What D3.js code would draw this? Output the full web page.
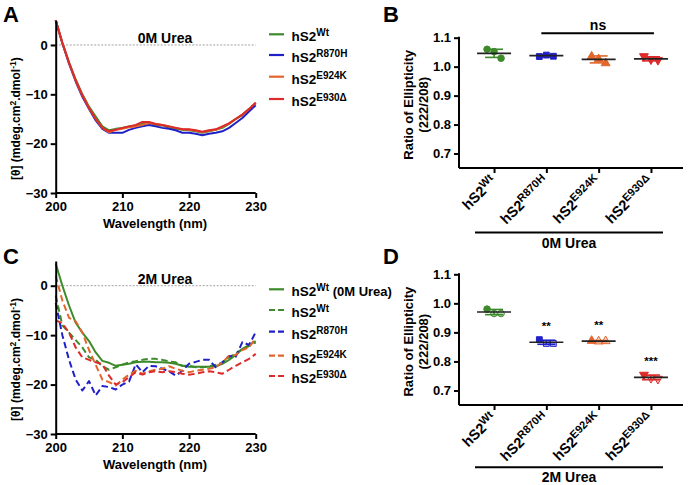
<!DOCTYPE html>
<html><head><meta charset="utf-8">
<script src="https://cdn.jsdelivr.net/npm/d3@7"></script>
<style>
body{margin:0;background:#fff;}
svg{display:block;font-family:"Liberation Sans",Arial,sans-serif;font-weight:bold;}
</style></head>
<body><svg id="c" width="688" height="485"></svg>
<script>
// ---------- DATA ----------
const wavelengths = d3.range(200, 231); // 200..230 nm
const seriesNames = ["Wt", "R870H", "E924K", "E930Δ"];
const colors = {"Wt":"#3d8a2b","R870H":"#2020c8","E924K":"#e2652c","E930Δ":"#dd2a2a"};

// Panel A: 0M Urea
const a_Wt    = [5,0.5,-3.5,-7,-10,-12.5,-14.5,-16.5,-17.3,-17,-16.8,-16.5,-16.3,-16,-15.8,-16.2,-16.3,-16.8,-17,-17.2,-17.3,-17.5,-17.8,-17.5,-17.2,-16.8,-16,-15,-14.2,-13,-11.8];
const a_R870H = [5,0.3,-3.8,-7.4,-10.5,-13,-15.3,-17,-17.8,-17.8,-17.8,-17.2,-16.8,-16.5,-16.2,-16.5,-16.8,-17,-17.3,-17.8,-17.8,-18,-18.3,-18,-17.8,-17.5,-16.8,-15.8,-14.8,-13.5,-12.2];
const a_E924K = [5,0.4,-3.6,-7.2,-10.2,-12.8,-15,-16.8,-17.7,-17.2,-17,-16.7,-16.5,-16.2,-15.8,-16,-16.2,-16.5,-16.8,-17.1,-17.2,-17.4,-17.7,-17.4,-17.2,-16.6,-15.9,-15,-14.1,-13,-11.7];
const a_E930D = [5,0.4,-3.6,-7.2,-10.2,-12.8,-15,-16.8,-17.5,-17.2,-16.8,-16.5,-16.2,-15.6,-15.6,-16,-16.2,-16.5,-16.8,-17.1,-17.1,-17.3,-17.6,-17.3,-17.1,-16.5,-15.9,-15,-14.1,-13,-11.7];

// Panel C: 2M Urea (plus Wt at 0M as reference)
const c_Wt0M  = [4.5,0,-4,-7.5,-9.5,-11.2,-13.5,-15.2,-15.6,-16.2,-16,-15.8,-15.5,-15.4,-15.4,-15.5,-15.5,-15.6,-15.8,-16.2,-16.4,-16.4,-16.4,-16.4,-16.3,-15.8,-15,-14,-12.8,-12,-11.2];
const c_Wt    = [-2,-8,-9.5,-11,-12.5,-14.5,-15,-16.3,-17,-16.5,-16,-15.5,-15.3,-15,-14.8,-14.8,-15,-15.3,-15.5,-16.2,-16.2,-16.5,-16.5,-16.3,-16,-15.5,-14.5,-13.7,-12.8,-12.2,-11.5];
const c_R870H = [-3.5,-10,-15,-19,-21.2,-19.3,-22.2,-20.3,-20.5,-21,-20,-19.4,-15.9,-17.5,-16.2,-16.3,-16.8,-17.3,-18.2,-17.2,-15.8,-15.4,-15,-15,-16.5,-15.5,-14.2,-14.4,-11.4,-12,-9.4];
const c_E924K = [2,-3,-6.5,-7.2,-9.5,-13,-16,-19,-19.5,-20.2,-19,-18,-17.2,-17.8,-17.3,-17,-16.8,-16.3,-16.8,-17.2,-17.5,-17.2,-17,-16.8,-16.5,-15.5,-14.2,-14,-13,-12.5,-10.5];
const c_E930D = [-7,-7.6,-9.5,-12.5,-14.5,-15,-15.5,-15.9,-18.2,-20,-19.5,-18.5,-17.5,-18,-17.5,-17.3,-17.5,-17.3,-17.5,-17.8,-18,-17.8,-17.5,-17.3,-17.5,-17.8,-17,-16.2,-15.5,-14.8,-13.8];

// Panel B: ratio of ellipticity 222/208, 0M urea (3 replicates each)
const b_points = {"Wt":[1.060,1.052,1.029],"R870H":[1.035,1.040,1.036],"E924K":[1.035,1.026,1.012],"E930Δ":[1.036,1.025,1.023]};
const b_mean   = {"Wt":1.046,"R870H":1.038,"E924K":1.025,"E930Δ":1.027};
const b_sd     = {"Wt":0.014,"R870H":0.003,"E924K":0.012,"E930Δ":0.007};

// Panel D: 2M urea
const d_points = {"Wt":[0.980,0.965,0.965],"R870H":[0.875,0.862,0.862],"E924K":[0.871,0.869,0.870],"E930Δ":[0.754,0.743,0.740]};
const d_mean   = {"Wt":0.970,"R870H":0.866,"E924K":0.870,"E930Δ":0.745};
const d_sd     = {"Wt":0.009,"R870H":0.007,"E924K":0.002,"E930Δ":0.008};
const d_signif = {"Wt":"","R870H":"**","E924K":"**","E930Δ":"***"};

const markerShapes = {"Wt":d3.symbolCircle,"R870H":d3.symbolSquare,"E924K":d3.symbolTriangle,"E930Δ":"inv"};
const xTicksWave = [200,210,220,230];
const yTicksCD = [0,-10,-20,-30];
const yTicksRatio = [0.7,0.8,0.9,1.0,1.1];

// ---------- DRAW ----------
const svg = d3.select("#c");

function styleAxis(g){
  g.select(".domain").attr("stroke","#000").attr("stroke-width",2);
  g.selectAll(".tick line").attr("stroke","#000").attr("stroke-width",2);
  g.selectAll(".tick text").attr("font-size",13).attr("font-weight","bold").attr("font-family","Liberation Sans, Arial, sans-serif").attr("fill","#000");
}

function hs2(sel, sup, size, supSize){
  sel.append("tspan").text("hS2").attr("font-size",size);
  sel.append("tspan").text(sup).attr("font-size",supSize).attr("dy",-size*0.38);
}

function letter(t,x,y){
  svg.append("text").attr("x",x).attr("y",y).attr("font-size",22).attr("font-weight","bold").text(t);
}

function spectrumPanel(top, bottom, series, title, legendItems){
  const x = d3.scaleLinear().domain([200,230]).range([55.7,255.7]);
  const y = d3.scaleLinear().domain([-30,5]).range([bottom, top]);
  const g = svg.append("g");
  g.append("line").attr("x1",x(200)).attr("x2",x(230)).attr("y1",y(0)).attr("y2",y(0))
    .attr("stroke","#888").attr("stroke-width",0.8).attr("stroke-dasharray","2,1.5");
  g.append("text").attr("x",165).attr("y",y(0)-2).attr("text-anchor","middle").attr("font-size",14).text(title);
  const line = d3.line().x((d,i)=>x(wavelengths[i])).y(d=>y(d));
  series.forEach(s=>{
    g.append("path").attr("d",line(s.values)).attr("fill","none").attr("stroke",s.color)
      .attr("stroke-width",2).attr("stroke-dasharray",s.dash?"6.5,3.5":null).attr("stroke-linejoin","round");
  });
  const ax = g.append("g").attr("transform",`translate(0,${bottom})`)
    .call(d3.axisBottom(x).tickValues(xTicksWave).tickSize(5).tickSizeOuter(0).tickPadding(4));
  styleAxis(ax);
  ax.select(".domain").attr("d",`M${x(200)},0H${x(230)}`);
  const ay = g.append("g").attr("transform",`translate(${x(200)},0)`)
    .call(d3.axisLeft(y).tickValues(yTicksCD).tickSize(5).tickSizeOuter(0).tickPadding(3));
  styleAxis(ay);
  g.append("text").attr("x",155).attr("y",bottom+35).attr("text-anchor","middle").attr("font-size",13).text("Wavelength (nm)");
  const yt = g.append("text").attr("transform",`translate(20,${(top+bottom)/2+12}) rotate(-90)`).attr("text-anchor","middle").attr("font-size",12);
  yt.append("tspan").text("[θ] (mdeg.cm");
  yt.append("tspan").text("2").attr("font-size",8.5).attr("dy",-4);
  yt.append("tspan").text(".dmol").attr("font-size",12).attr("dy",4);
  yt.append("tspan").text("-1").attr("font-size",8.5).attr("dy",-4);
  yt.append("tspan").text(")").attr("font-size",12).attr("dy",4);
  legendItems.forEach((it,i)=>{
    const ly = it.y;
    g.append("line").attr("x1",269).attr("x2",284).attr("y1",ly).attr("y2",ly)
      .attr("stroke",it.color).attr("stroke-width",2.2).attr("stroke-dasharray",it.dash?"6,3":null);
    const t = g.append("text").attr("x",291.5).attr("y",ly+7);
    hs2(t,it.sup,13.5,10);
    if(it.extra) t.append("tspan").text(it.extra).attr("font-size",13).attr("dy",13.5*0.38);
  });
}

spectrumPanel(20.3, 193, [
  {values:a_Wt,color:colors["Wt"]},
  {values:a_R870H,color:colors["R870H"]},
  {values:a_E924K,color:colors["E924K"]},
  {values:a_E930D,color:colors["E930Δ"]}
], "0M Urea", [
  {sup:"Wt",color:colors["Wt"],y:34.3},
  {sup:"R870H",color:colors["R870H"],y:55},
  {sup:"E924K",color:colors["E924K"],y:76.7},
  {sup:"E930Δ",color:colors["E930Δ"],y:99}
]);

spectrumPanel(261, 434, [
  {values:c_Wt0M,color:colors["Wt"]},
  {values:c_Wt,color:colors["Wt"],dash:true},
  {values:c_R870H,color:colors["R870H"],dash:true},
  {values:c_E924K,color:colors["E924K"],dash:true},
  {values:c_E930D,color:colors["E930Δ"],dash:true}
], "2M Urea", [
  {sup:"Wt",color:colors["Wt"],y:289.3,extra:" (0M Urea)"},
  {sup:"Wt",color:colors["Wt"],y:310,dash:true},
  {sup:"R870H",color:colors["R870H"],y:331.7,dash:true},
  {sup:"E924K",color:colors["E924K"],y:355.7,dash:true},
  {sup:"E930Δ",color:colors["E930Δ"],y:376,dash:true}
]);

function symbolPath(name,size){
  const s = markerShapes[name];
  if(s==="inv") return d3.symbol(d3.symbolTriangle,size)();
  return d3.symbol(s,size)();
}

function ratioPanel(top, bottom, points, means, sds, groupLabel, groupY, open, signif){
  const x = d3.scalePoint().domain(seriesNames).range([459,686]).padding(0.67);
  const y = d3.scaleLinear().domain([0.65,1.1]).range([bottom, top]);
  const g = svg.append("g");
  const ay = g.append("g").attr("transform","translate(459,0)")
    .call(d3.axisLeft(y).tickValues(yTicksRatio).tickFormat(d3.format(".1f")).tickSize(5).tickSizeOuter(0).tickPadding(3));
  styleAxis(ay);
  ay.select(".domain").attr("d",`M0,${bottom}V${top-1}`);
  const ax = g.append("g").attr("transform",`translate(0,${bottom})`)
    .call(d3.axisBottom(x).tickSize(5).tickSizeOuter(0).tickFormat(""));
  styleAxis(ax);
  ax.select(".domain").attr("d",`M459,0H683`);
  seriesNames.forEach((n,i)=>{
    const cx = x(n);
    const t = g.append("text").attr("transform",`translate(${cx+3},${bottom+14}) rotate(-45)`).attr("text-anchor","end");
    t.append("tspan").text("hS2").attr("font-size",14.5);
    t.append("tspan").text(n).attr("font-size",11).attr("dy",-5);
    const c = colors[n];
    const m = means[n], sd = sds[n];
    g.append("line").attr("x1",cx).attr("x2",cx).attr("y1",y(m-sd)).attr("y2",y(m+sd)).attr("stroke",c).attr("stroke-width",1.6);
    [m-sd,m+sd].forEach(v=>g.append("line").attr("x1",cx-9).attr("x2",cx+9).attr("y1",y(v)).attr("y2",y(v)).attr("stroke",c).attr("stroke-width",1.6));
    const offs = [-7,0,7];
    points[n].forEach((v,j)=>{
      const rot = markerShapes[n]==="inv" ? " rotate(180)" : "";
      g.append("path").attr("d",symbolPath(n,34))
        .attr("transform",`translate(${cx+offs[j]},${y(v)})${rot}`)
        .attr("fill",c).attr("fill-opacity",open && j>0 ? 0.25 : 1)
        .attr("stroke",c).attr("stroke-width",1);
    });
    g.append("line").attr("x1",cx-17).attr("x2",cx+17).attr("y1",y(m)).attr("y2",y(m)).attr("stroke","#222").attr("stroke-width",1.6);
    if(signif && signif[n]) g.append("text").attr("x",cx).attr("y",y(m)-12).attr("text-anchor","middle").attr("font-size",11.5).text(signif[n]);
  });
  const yt = g.append("text").attr("transform",`translate(413,${(top+bottom)/2+2}) rotate(-90)`).attr("text-anchor","middle").attr("font-size",13);
  yt.append("tspan").attr("x",0).attr("dy",0).text("Ratio of Ellipticity");
  yt.append("tspan").attr("x",0).attr("dy",15).text("(222/208)");
  g.append("line").attr("x1",475).attr("x2",663).attr("y1",groupY).attr("y2",groupY).attr("stroke","#000").attr("stroke-width",2);
  g.append("text").attr("x",569).attr("y",groupY+15).attr("text-anchor","middle").attr("font-size",14).text(groupLabel);
  return {x,y,g};
}

const B = ratioPanel(37.7, 168, b_points, b_mean, b_sd, "0M Urea", 232.5, false, null);
B.g.append("line").attr("x1",B.x("R870H")-5).attr("x2",B.x("E930Δ")+3).attr("y1",33.3).attr("y2",33.3).attr("stroke","#000").attr("stroke-width",2);
B.g.append("text").attr("x",598).attr("y",30).attr("text-anchor","middle").attr("font-size",14).text("ns");

ratioPanel(274.3, 405, d_points, d_mean, d_sd, "2M Urea", 467.3, true, d_signif);

letter("A",3,22); letter("B",383,22); letter("C",3,264); letter("D",383,264);
</script></body></html>
